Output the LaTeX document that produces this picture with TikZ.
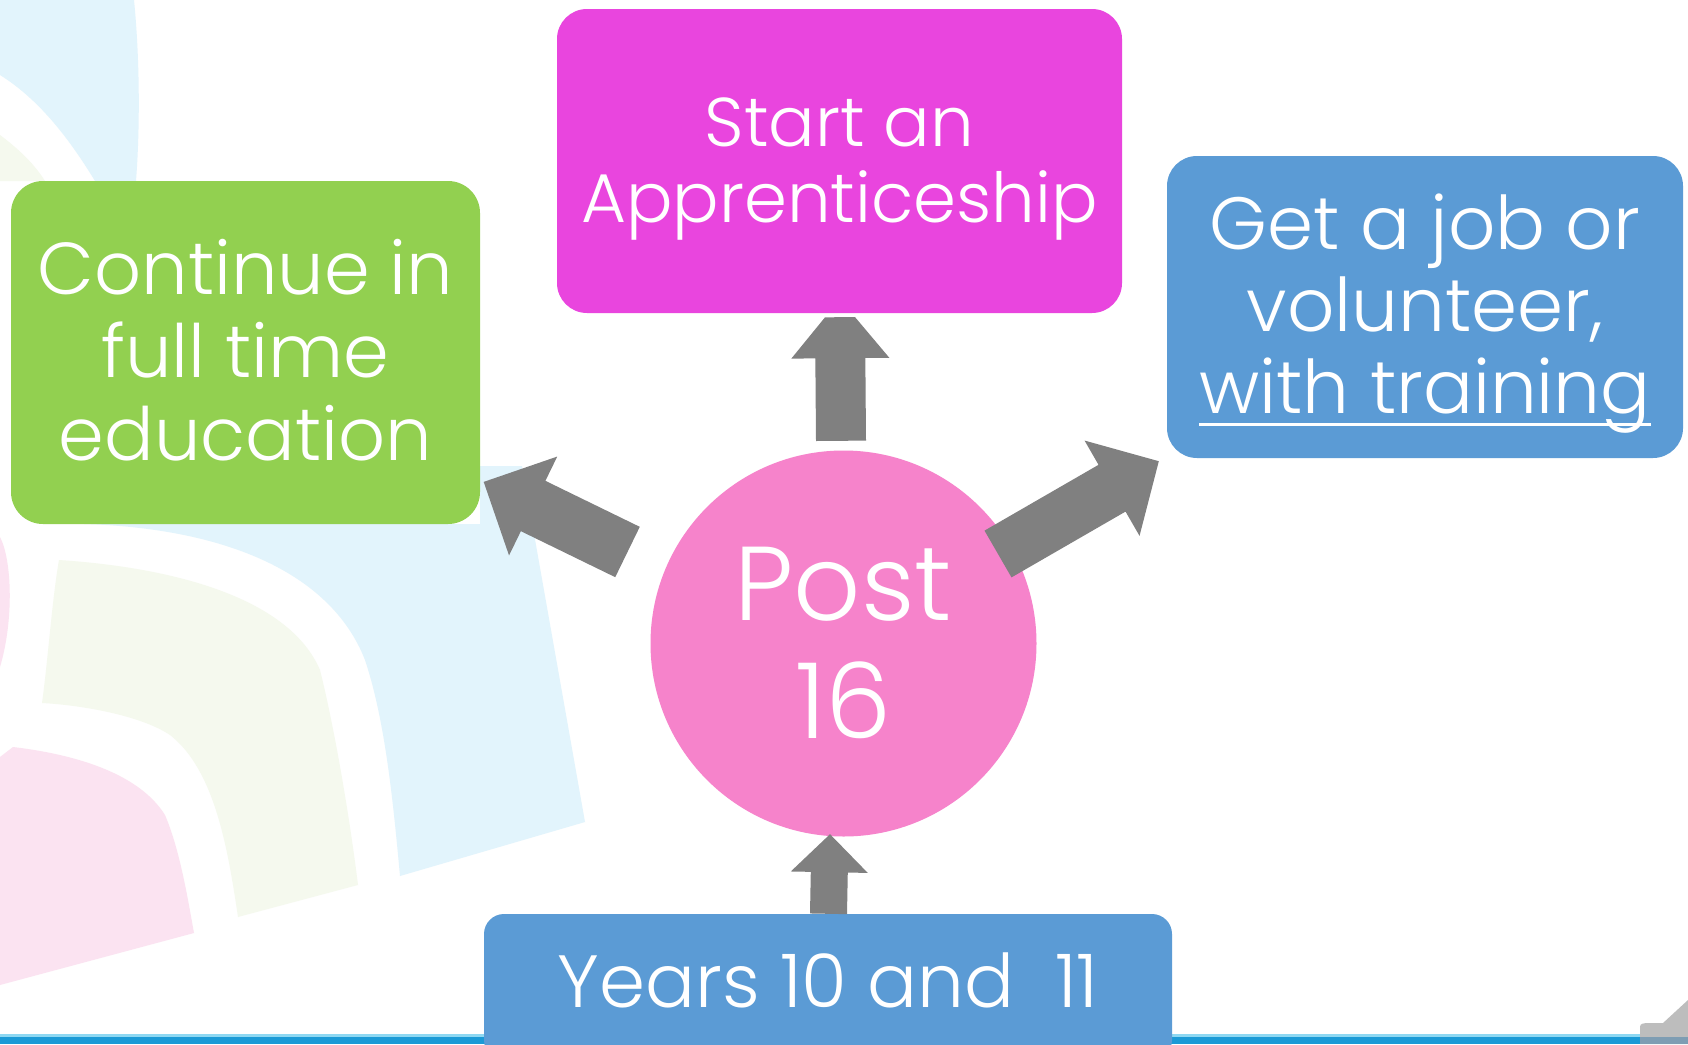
\documentclass[tikz,border=0pt]{standalone}
\usepackage{fontspec}
\IfFontExistsTF{Poppins Light}{\setmainfont{Poppins Light}}{\setmainfont{Poppins}}
\usetikzlibrary{calc}
\definecolor{boxgreen}{HTML}{92D050}
\definecolor{boxmag}{HTML}{E945DE}
\definecolor{boxblue}{HTML}{5B9BD5}
\definecolor{circpink}{HTML}{F683CB}
\definecolor{arrowgray}{HTML}{808080}
\definecolor{bgblue}{HTML}{E2F4FC}
\definecolor{bggreen}{HTML}{F5F9EE}
\definecolor{bgpink}{HTML}{FBE3F1}
\definecolor{lineblue}{HTML}{1B9AD6}
\definecolor{linecyan}{HTML}{8ED8F2}
\definecolor{tabgray}{HTML}{BDBDBD}
\definecolor{tabblue}{HTML}{7E9DB3}
\newcommand\myul[1]{\setbox0\hbox{#1}\rlap{\rule[-13pt]{\wd0}{3.5pt}}\box0}
\newcommand\topstrut[1]{\rule{0pt}{#1}}
\newcommand\botstrut[1]{\rule[-#1]{0pt}{#1}}
% #1 start, #2 tip, #3 half shaft, #4 half head, #5 head length, #6 half tip
\newcommand\blockarrow[6]{%
  \fill[arrowgray]
    ($(#1)!#3!90:(#2)$) --
    ($(#2)!#5!(#1)!#3!90:(#2)$) --
    ($(#2)!#5!(#1)!#4!90:(#2)$) --
    ($(#2)!#6!-90:(#1)$) --
    ($(#2)!#6!90:(#1)$) --
    ($(#2)!#5!(#1)!#4!-90:(#2)$) --
    ($(#2)!#5!(#1)!#3!-90:(#2)$) --
    ($(#1)!#3!-90:(#2)$) -- cycle;}
\begin{document}
\begin{tikzpicture}[x=1pt,y=-1pt,
  box/.style={rectangle, text=white, align=center, inner sep=0pt}]
\useasboundingbox (0,0) rectangle (1688,1044);
\fill[white] (0,0) rectangle (1688,1044);
% faint background
\fill[bgblue] (0,0) -- (134,0) .. controls (140,60) and (140,130) .. (136,181)
  -- (95,181) .. controls (70,140) and (40,100) .. (0,75) -- cycle;
\fill[bggreen] (0,135) .. controls (20,150) and (35,165) .. (45,181) -- (0,181) -- cycle;
\fill[bgblue] (84,524) .. controls (220,528) and (330,570) .. (365,660)
  .. controls (385,720) and (393,800) .. (400,876) -- (585,822) -- (522,466)
  -- (480,466) -- (480,524) -- cycle;
\fill[bggreen] (59,560) .. controls (180,568) and (290,600) .. (320,670)
  .. controls (335,730) and (350,820) .. (358,885) -- (238,917)
  .. controls (228,850) and (215,770) .. (170,735)
  .. controls (140,715) and (80,705) .. (42,703)
  .. controls (48,660) and (52,600) .. (59,560) -- cycle;
\fill[bgpink] (13,747) .. controls (80,755) and (140,775) .. (165,815)
  .. controls (180,850) and (188,900) .. (194,933) -- (0,985) -- (0,757) -- cycle;
\fill[bgpink] (0,537) .. controls (12,560) and (14,620) .. (0,667) -- cycle;
% bottom band
\fill[linecyan] (0,1034) rectangle (1688,1037.5);
\fill[lineblue] (0,1037) rectangle (1688,1044);
\fill[tabgray] (1640,1044) -- (1640,1030) .. controls (1640,1024) .. (1646,1023)
  -- (1663,1023) -- (1688,1000) -- (1688,1044) -- cycle;
\fill[tabblue] (1640,1037) rectangle (1688,1044);
% nodes
\node[box, fill=boxgreen, rounded corners=32pt, minimum width=469pt, minimum height=343pt,
  font=\fontsize{73.5}{83}\selectfont] (green) at (245.5,352.5)
  {\topstrut{100pt}Continue in\\full time\\education\botstrut{50pt}};
\node[box, fill=boxmag, rounded corners=30pt, minimum width=565pt, minimum height=304pt,
  font=\fontsize{69}{76}\selectfont] (appr) at (839.5,161)
  {\topstrut{100pt}Start an\\Apprenticeship\botstrut{54pt}};
\node[box, fill=boxblue, rounded corners=30pt, minimum width=516pt, minimum height=302pt,
  font=\fontsize{74}{82}\selectfont] (job) at (1425,307)
  {\topstrut{80pt}Get a job or\\volunteer,\\\myul{with training}\botstrut{32pt}};
\node[box, fill=boxblue, rounded corners=20pt, minimum width=688pt, minimum height=146pt,
  font=\fontsize{74}{76}\selectfont] (yrs) at (828,987)
  {\topstrut{70pt}Years 10 and\ \ 11\botstrut{30pt}};
\node[circle, fill=circpink, text=white, align=center, inner sep=0pt, minimum size=386pt,
  font=\fontsize{105}{118}\selectfont] (post) at (843.5,643.5)
  {\topstrut{100pt}Post\\16\botstrut{29pt}};
% arrow ends
\coordinate (upS) at ($(post.north)+(-2.5,-9.5)$);
\coordinate (upT) at ($(appr.south)+(0.5,4)$);
\coordinate (lfS) at ($(post.center)+(-216,-91.5)$);
\coordinate (lfT) at ($(green.south east)+(3.5,-42.3)$);
\coordinate (rtS) at ($(post.center)+(154.5,-89.5)$);
\coordinate (rtT) at ($(job.south west)+(-8,3)$);
\coordinate (btS) at ($(yrs.north)+(0.5,0)$);
\coordinate (btT) at ($(post.south)+(-13.5,-2.5)$);
\blockarrow{upS}{upT}{25pt}{49pt}{41pt}{15pt}
\blockarrow{lfS}{lfT}{28pt}{55pt}{55pt}{0pt}
\blockarrow{rtS}{rtT}{27pt}{55pt}{54pt}{0pt}
\blockarrow{btS}{btT}{18.5pt}{38.5pt}{38pt}{0pt}
\end{tikzpicture}
\end{document}
